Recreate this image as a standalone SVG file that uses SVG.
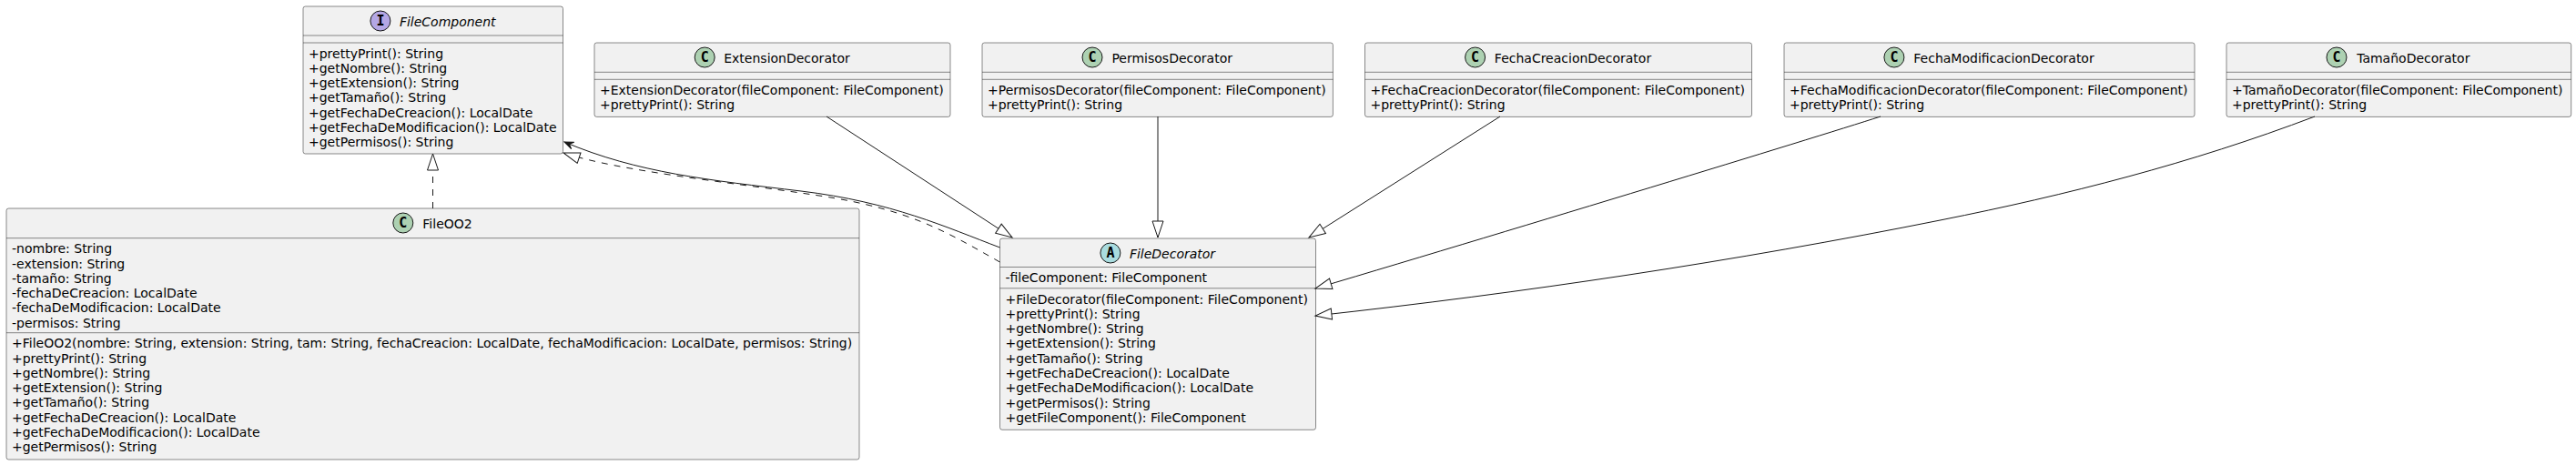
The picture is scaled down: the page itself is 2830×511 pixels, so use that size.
<svg xmlns="http://www.w3.org/2000/svg" width="2830" height="511" viewBox="0 0 2830 511">
<style>
.box{fill:#F1F1F1;stroke:#181818;stroke-width:0.5}
.sep{stroke:#181818;stroke-width:0.5}
.t{font-family:"DejaVu Sans","Liberation Sans",sans-serif;font-size:14px;fill:#000000}
.ti{font-family:"DejaVu Sans","Liberation Sans",sans-serif;font-size:14px;fill:#000000;text-anchor:middle}
.it{font-style:italic}
.ic{stroke:#181818;stroke-width:1}
.icl{font-family:"DejaVu Sans Mono","Liberation Mono",monospace;font-size:15px;font-weight:bold;fill:#000000;text-anchor:middle}
.edge{fill:none;stroke:#181818;stroke-width:1}
.dash{stroke-dasharray:7,7}
</style>
<defs>
<marker id="tri" markerUnits="userSpaceOnUse" markerWidth="20" markerHeight="16" refX="18" refY="7" orient="auto" overflow="visible">
<path d="M0,1 L18,7 L0,13 Z" fill="#FFFFFF" stroke="#181818" stroke-width="1" stroke-dasharray="none"/>
</marker>
<marker id="arr" markerUnits="userSpaceOnUse" markerWidth="12" markerHeight="10" refX="10" refY="4" orient="auto" overflow="visible">
<path d="M0,0 L10,4 L0,8 L4,4 Z" fill="#181818" stroke="#181818" stroke-width="1" stroke-dasharray="none"/>
</marker>
</defs>
<rect width="2830" height="511" fill="#FFFFFF"/>

<g id="FileComponent">
<rect class="box" x="333" y="7" width="285.5" height="162" rx="2.5"/>
<circle class="ic" cx="417.9" cy="23" r="11" fill="#B4A7E5"/>
<text class="icl" x="417.9" y="28.2">I</text>
<text class="ti it" x="491.75" y="29">FileComponent</text>
<line class="sep" x1="333" y1="39" x2="618.5" y2="39"/>
<line class="sep" x1="333" y1="47" x2="618.5" y2="47"/>
<text class="t" x="339" y="63.5">+prettyPrint(): String</text>
<text class="t" x="339" y="79.8">+getNombre(): String</text>
<text class="t" x="339" y="96.1">+getExtension(): String</text>
<text class="t" x="339" y="112.4">+getTamaño(): String</text>
<text class="t" x="339" y="128.7">+getFechaDeCreacion(): LocalDate</text>
<text class="t" x="339" y="145">+getFechaDeModificacion(): LocalDate</text>
<text class="t" x="339" y="161.3">+getPermisos(): String</text>
</g>

<g id="FileOO2">
<rect class="box" x="7" y="229" width="937" height="276" rx="2.5"/>
<circle class="ic" cx="442.8" cy="245" r="11" fill="#ADD1B2"/>
<text class="icl" x="442.8" y="250.2">C</text>
<text class="ti" x="491.5" y="251">FileOO2</text>
<line class="sep" x1="7" y1="261.7" x2="944" y2="261.7"/>
<text class="t" x="13" y="278.2">-nombre: String</text>
<text class="t" x="13" y="294.5">-extension: String</text>
<text class="t" x="13" y="310.8">-tamaño: String</text>
<text class="t" x="13" y="327.1">-fechaDeCreacion: LocalDate</text>
<text class="t" x="13" y="343.4">-fechaDeModificacion: LocalDate</text>
<text class="t" x="13" y="359.7">-permisos: String</text>
<line class="sep" x1="7" y1="365.7" x2="944" y2="365.7"/>
<text class="t" x="13" y="382.2">+FileOO2(nombre: String, extension: String, tam: String, fechaCreacion: LocalDate, fechaModificacion: LocalDate, permisos: String)</text>
<text class="t" x="13" y="398.5">+prettyPrint(): String</text>
<text class="t" x="13" y="414.8">+getNombre(): String</text>
<text class="t" x="13" y="431.1">+getExtension(): String</text>
<text class="t" x="13" y="447.4">+getTamaño(): String</text>
<text class="t" x="13" y="463.7">+getFechaDeCreacion(): LocalDate</text>
<text class="t" x="13" y="480">+getFechaDeModificacion(): LocalDate</text>
<text class="t" x="13" y="496.3">+getPermisos(): String</text>
</g>

<g id="FileDecorator">
<rect class="box" x="1098.5" y="262" width="347" height="210.3" rx="2.5"/>
<circle class="ic" cx="1219.9" cy="278" r="11" fill="#A9DCDF"/>
<text class="icl" x="1219.9" y="283.2">A</text>
<text class="ti it" x="1288" y="284">FileDecorator</text>
<line class="sep" x1="1098.5" y1="293.5" x2="1445.5" y2="293.5"/>
<text class="t" x="1104.5" y="310">-fileComponent: FileComponent</text>
<line class="sep" x1="1098.5" y1="316.8" x2="1445.5" y2="316.8"/>
<text class="t" x="1104.5" y="333.5">+FileDecorator(fileComponent: FileComponent)</text>
<text class="t" x="1104.5" y="349.8">+prettyPrint(): String</text>
<text class="t" x="1104.5" y="366.1">+getNombre(): String</text>
<text class="t" x="1104.5" y="382.4">+getExtension(): String</text>
<text class="t" x="1104.5" y="398.7">+getTamaño(): String</text>
<text class="t" x="1104.5" y="415">+getFechaDeCreacion(): LocalDate</text>
<text class="t" x="1104.5" y="431.3">+getFechaDeModificacion(): LocalDate</text>
<text class="t" x="1104.5" y="447.6">+getPermisos(): String</text>
<text class="t" x="1104.5" y="463.9">+getFileComponent(): FileComponent</text>
</g>

<g id="ExtensionDecorator">
<rect class="box" x="653" y="47" width="391" height="81.4" rx="2.5"/>
<circle class="ic" cx="774.2" cy="63" r="11" fill="#ADD1B2"/>
<text class="icl" x="774.2" y="68.2">C</text>
<text class="ti" x="864.5" y="69">ExtensionDecorator</text>
<line class="sep" x1="653" y1="79.3" x2="1044" y2="79.3"/>
<line class="sep" x1="653" y1="87.3" x2="1044" y2="87.3"/>
<text class="t" x="659" y="103.8">+ExtensionDecorator(fileComponent: FileComponent)</text>
<text class="t" x="659" y="120.1">+prettyPrint(): String</text>
</g>

<g id="PermisosDecorator">
<rect class="box" x="1079" y="47" width="385.4" height="81.4" rx="2.5"/>
<circle class="ic" cx="1200" cy="63" r="11" fill="#ADD1B2"/>
<text class="icl" x="1200" y="68.2">C</text>
<text class="ti" x="1287.7" y="69">PermisosDecorator</text>
<line class="sep" x1="1079" y1="79.3" x2="1464.4" y2="79.3"/>
<line class="sep" x1="1079" y1="87.3" x2="1464.4" y2="87.3"/>
<text class="t" x="1085" y="103.8">+PermisosDecorator(fileComponent: FileComponent)</text>
<text class="t" x="1085" y="120.1">+prettyPrint(): String</text>
</g>

<g id="FechaCreacionDecorator">
<rect class="box" x="1499.5" y="47" width="425" height="81.4" rx="2.5"/>
<circle class="ic" cx="1620.6" cy="63" r="11" fill="#ADD1B2"/>
<text class="icl" x="1620.6" y="68.2">C</text>
<text class="ti" x="1728" y="69">FechaCreacionDecorator</text>
<line class="sep" x1="1499.5" y1="79.3" x2="1924.5" y2="79.3"/>
<line class="sep" x1="1499.5" y1="87.3" x2="1924.5" y2="87.3"/>
<text class="t" x="1505.5" y="103.8">+FechaCreacionDecorator(fileComponent: FileComponent)</text>
<text class="t" x="1505.5" y="120.1">+prettyPrint(): String</text>
</g>

<g id="FechaModificacionDecorator">
<rect class="box" x="1960" y="47" width="451" height="81.4" rx="2.5"/>
<circle class="ic" cx="2080.9" cy="63" r="11" fill="#ADD1B2"/>
<text class="icl" x="2080.9" y="68.2">C</text>
<text class="ti" x="2201.5" y="69">FechaModificacionDecorator</text>
<line class="sep" x1="1960" y1="79.3" x2="2411" y2="79.3"/>
<line class="sep" x1="1960" y1="87.3" x2="2411" y2="87.3"/>
<text class="t" x="1966" y="103.8">+FechaModificacionDecorator(fileComponent: FileComponent)</text>
<text class="t" x="1966" y="120.1">+prettyPrint(): String</text>
</g>

<g id="TamanoDecorator">
<rect class="box" x="2446" y="47" width="378.7" height="81.4" rx="2.5"/>
<circle class="ic" cx="2567" cy="63" r="11" fill="#ADD1B2"/>
<text class="icl" x="2567" y="68.2">C</text>
<text class="ti" x="2651.3" y="69">TamañoDecorator</text>
<line class="sep" x1="2446" y1="79.3" x2="2824.7" y2="79.3"/>
<line class="sep" x1="2446" y1="87.3" x2="2824.7" y2="87.3"/>
<text class="t" x="2452" y="103.8">+TamañoDecorator(fileComponent: FileComponent)</text>
<text class="t" x="2452" y="120.1">+prettyPrint(): String</text>
</g>

<g id="connectors">
<path class="edge dash" d="M475.5,229 L475.5,169" marker-end="url(#tri)"/>
<path class="edge" d="M1098.5,272 C1040,250 980,222 880,210 C780,198 700,190 620,156" marker-end="url(#arr)"/>
<path class="edge dash" d="M1098.5,288 C1040,255 1000,230 900,215 C800,200 680,188 619,168" marker-end="url(#tri)"/>
<path class="edge" d="M908,128 L1112,261" marker-end="url(#tri)"/>
<path class="edge" d="M1272,128 L1272,261" marker-end="url(#tri)"/>
<path class="edge" d="M1648,128 L1438,261" marker-end="url(#tri)"/>
<path class="edge" d="M2066,128 C1985,154 1680,247 1445,317" marker-end="url(#tri)"/>
<path class="edge" d="M2543,128 C2406,180 2270,214.3 2133,241.7 C1904,287.5 1674,321.8 1445,347" marker-end="url(#tri)"/>
</g>
</svg>
